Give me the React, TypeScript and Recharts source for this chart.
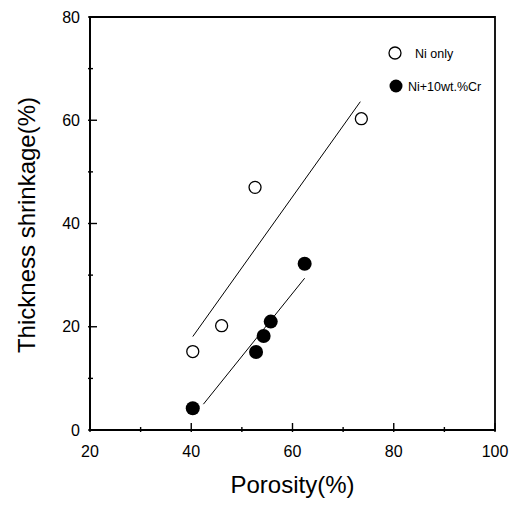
import { ScatterChart, Scatter, XAxis, YAxis, ReferenceArea, Legend, Label } from "recharts";

const xTicks = [20, 30, 40, 50, 60, 70, 80, 90, 100];
const yTicks = [0, 10, 20, 30, 40, 50, 60, 70, 80];

// Ni only samples
const niOnlyPorosity = [40.3, 46, 52.6, 73.6];
const niOnlyShrinkage = [15.2, 20.2, 47, 60.3];
// Ni + 10wt.%Cr samples
const niCrPorosity = [40.3, 52.8, 54.3, 55.7, 62.4];
const niCrShrinkage = [4.2, 15.1, 18.2, 21, 32.2];

// fitted lines (end points)
const niOnlyFitX = [40.3, 73.4];
const niOnlyFitY = [18.1, 63.6];
const niCrFitX = [42.4, 62.4];
const niCrFitY = [5.0, 29.4];

const legendItems = [
  { label: "Ni only", filled: false },
  { label: "Ni+10wt.%Cr", filled: true },
];

const FONT = '"Liberation Sans", Arial, sans-serif';

const toPoints = (xs: number[], ys: number[]) => xs.map((x, i) => ({ x, y: ys[i] }));

const niOnly = toPoints(niOnlyPorosity, niOnlyShrinkage);
const niCr = toPoints(niCrPorosity, niCrShrinkage);
const niOnlyFit = toPoints(niOnlyFitX, niOnlyFitY);
const niCrFit = toPoints(niCrFitX, niCrFitY);

function XTick(props: any) {
  const { x, y, payload } = props;
  const major = payload.value % 20 === 0;
  return (
    <g>
      <line x1={x} y1={y} x2={x} y2={y - (major ? 9 : 5)} stroke="#000" strokeWidth={1.4} />
      {major && (
        <text x={x} y={y + 25} textAnchor="middle" fontSize={16} fontFamily={FONT} fill="#000">
          {payload.value}
        </text>
      )}
    </g>
  );
}

function YTick(props: any) {
  const { x, y, payload } = props;
  const major = payload.value % 20 === 0;
  return (
    <g>
      <line x1={x} y1={y} x2={x + (major ? 9 : 5)} y2={y} stroke="#000" strokeWidth={1.4} />
      {major && (
        <text x={x - 8} y={y + 5.5} textAnchor="end" fontSize={16} fontFamily={FONT} fill="#000">
          {payload.value}
        </text>
      )}
    </g>
  );
}

function OpenDot(props: any) {
  return <circle cx={props.cx} cy={props.cy} r={6} fill="#fff" stroke="#000" strokeWidth={1.3} />;
}

function FilledDot(props: any) {
  return <circle cx={props.cx} cy={props.cy} r={7} fill="#000" />;
}

function LegendBox() {
  return (
    <svg width={125} height={62}>
      {legendItems.map((item, i) => {
        const cy = 15 + i * 33;
        const cx = 15 + i;
        return (
          <g key={item.label}>
            {item.filled ? (
              <circle cx={cx} cy={cy} r={6.5} fill="#000" />
            ) : (
              <circle cx={cx} cy={cy} r={6} fill="#fff" stroke="#000" strokeWidth={1.3} />
            )}
            <text
              x={item.filled ? 28 : 35}
              y={cy + 4.5}
              fontSize={12.5}
              fontFamily={FONT}
              fill="#000"
            >
              {item.label}
            </text>
          </g>
        );
      })}
    </svg>
  );
}

export default function App() {
  return (
    <div style={{ position: "absolute", left: 0, top: 0, background: "#fff" }}>
      <ScatterChart width={511} height={505} margin={{ top: 17, right: 16, bottom: 0, left: 0 }}>
        <XAxis
          dataKey="x"
          type="number"
          domain={[20, 100]}
          ticks={xTicks}
          interval={0}
          height={75}
          tickSize={0}
          tickLine={false}
          axisLine={{ stroke: "#000", strokeWidth: 1.8 }}
          tick={XTick}
        >
          <Label
            content={(p: any) => (
              <text
                x={p.viewBox.x + p.viewBox.width / 2}
                y={p.viewBox.y + 63}
                textAnchor="middle"
                fontSize={24}
                fontFamily={FONT}
                fill="#000"
              >
                Porosity(%)
              </text>
            )}
          />
        </XAxis>
        <YAxis
          dataKey="y"
          type="number"
          domain={[0, 80]}
          ticks={yTicks}
          interval={0}
          width={90}
          tickSize={0}
          tickLine={false}
          axisLine={{ stroke: "#000", strokeWidth: 1.8 }}
          tick={YTick}
        >
          <Label
            content={(p: any) => {
              const cx = p.viewBox.x + 26;
              const cy = p.viewBox.y + p.viewBox.height / 2 + 1.5;
              return (
                <text
                  x={cx}
                  y={cy}
                  transform={`rotate(-90 ${cx} ${cy})`}
                  textAnchor="middle"
                  dominantBaseline="central"
                  fontSize={24}
                  fontFamily={FONT}
                  fill="#000"
                >
                  Thickness shrinkage(%)
                </text>
              );
            }}
          />
        </YAxis>
        <ReferenceArea x1={20} x2={100} y1={0} y2={80} fill="none" stroke="#000" strokeWidth={1.8} />
        <Scatter
          data={niOnlyFit}
          line={{ stroke: "#000", strokeWidth: 1 }}
          shape={() => <g />}
          legendType="none"
          isAnimationActive={false}
        />
        <Scatter
          data={niCrFit}
          line={{ stroke: "#000", strokeWidth: 1 }}
          shape={() => <g />}
          legendType="none"
          isAnimationActive={false}
        />
        <Scatter name="Ni only" data={niOnly} shape={OpenDot} isAnimationActive={false} />
        <Scatter name="Ni+10wt.%Cr" data={niCr} shape={FilledDot} isAnimationActive={false} />
        <Legend
          layout="vertical"
          align="center"
          verticalAlign="middle"
          content={() => <LegendBox />}
          wrapperStyle={{ position: "absolute", top: 38, left: 380, width: 125 }}
        />
      </ScatterChart>
    </div>
  );
}
